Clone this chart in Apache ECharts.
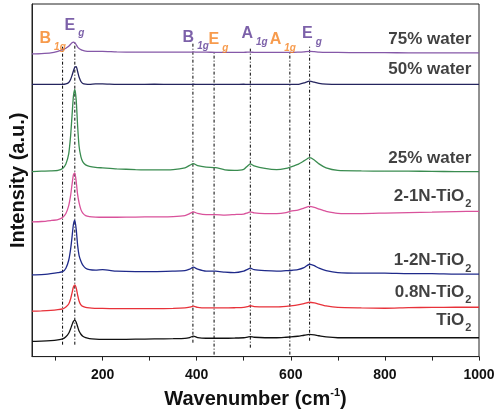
<!DOCTYPE html>
<html><head><meta charset="utf-8">
<script src="https://cdn.jsdelivr.net/npm/echarts@6/dist/echarts.min.js"></script>
<style>html,body{margin:0;padding:0;background:#fff}#c{width:500px;height:414px}</style>
</head><body><div id="c"></div>
<script>
// Raman shift (cm-1)
const wavenumber = [50,70,90,105,115,122,128,132,135,138,141,144,147,150,154,158,164,172,185,200,230,270,310,350,375,385,393,402,420,440,460,480,500,508,514,522,545,570,590,600,615,628,640,650,660,675,700,750,800,850,900,950,1000];
// Intensities (a.u., offset stacked)
const tio2 = [15.3,15.5,16,16.8,17.8,20,23.5,28,32,35.5,36.7,34.5,30,25.7,22.5,20.5,19,18,17.5,17.3,17.3,17.5,17.8,18,18.3,19.2,20.6,19.2,18.5,18.5,18.5,18.7,19,19.6,20.2,19.5,19,19,19.5,19.8,20.5,21.5,22.3,21.8,21,19.8,19,19,19,19,19,19,19];
const n08 = [45.7,46,46.5,47.2,48,50,53,58,64,70,72.3,69,62,56,52,50.5,49.5,49,48.5,48.5,48.3,48.3,48.3,48.5,49,49.8,50.8,49.6,49,49,49,49.2,49.5,50.3,51.2,50.4,50,50,50.5,51,52,53.3,54.7,54,52.8,51,49.5,49,48.7,49.3,49.5,49.7,49.7];
const n12 = [82.3,82.5,83.5,84.5,85.5,89,97,108,120,133,137.5,128,112,102,96,92,89,87.5,87,87.5,86,85.5,85.5,86,86.5,88,90,88,86,86,85,84.5,86,87.8,89,87.5,86.5,86,86.5,86.7,87.5,89.5,93,91.5,89,86.5,84.5,84,84,83.5,83.5,83,83];
const n21 = [135.7,136,137,138,140,144,152,162,173,183,185,176,163,155,148,144.5,142,141,140.5,140.3,140.3,140.5,140.7,141,142,144,145.7,144.2,143,143,142.5,143,143.5,144.8,145.7,144.6,144,144,145,146.5,147.5,149.5,151.3,150.2,148.5,146.3,144.3,144,144.5,145,145.5,146,146.3];
const w25 = [186.3,186.7,187,187.5,189.5,194,204,222,242,262,269,258,232,212,201,196,193,191.5,190.5,190,189,188.3,188,188.3,190,192.5,194.3,192.3,190.8,190.3,188,187.5,188.5,192,194,192,189.5,188.3,189.5,191,193.5,197,200.3,198,194,190,187.5,187,186.7,186.7,186.5,186.3,186.3];
const w50 = [274,274,274,274,274,274.5,276,279,283,287.5,291.5,292,287,281.5,277,275,274.3,274,274.5,274.5,274,274,274.2,274,274,274,274.2,274,274,274,274,274,274.2,274,274,274,274,274,274,274,274,275.5,277.3,276.3,275,274.3,274,274,274,274,274,274,274];
const w75 = [304.7,305,305.7,307.3,309,310.5,312.5,314.5,316,316.7,316,314,311.5,310.3,309,308.2,307.5,307.3,307.3,307.3,306.7,306.5,306.5,306.5,306.5,306.5,306.7,306.5,306.5,306.3,306.3,306.3,306.3,306.5,306.5,306.3,306.3,306.3,306.3,306.3,306.5,306.8,307.3,307,306.6,306.3,306.2,306,306,305.8,305.8,305.7,305.7];

const seriesNames = ['TiO2','0.8N-TiO2','1-2N-TiO2','2-1N-TiO2','25% water','50% water','75% water'];
const seriesLabels = ['TiO{s|2}','0.8N-TiO{s|2}','1-2N-TiO{s|2}','2-1N-TiO{s|2}','25% water','50% water','75% water'];
const seriesLabelX = [985,985,985,985,985,985,985];
const seriesLabelY = [36.5,64.8,96.5,161.5,199.2,289,319];
const seriesColors = ['#111111','#e8323a','#1f2a8a','#d9529b','#3a8c50','#24245e','#8558a8'];

// Raman mode reference lines
const modeX = [115,141,392,437,514,598,640];
const modeTop = [312,316,316,306,311,307,312];
const modeBottom = [12,12,14,2,9,2,16];

// Mode labels
const modeLabelText = ['B{s|1g}','E{s|g}','B{s|1g}','E{s|g}','A{s|1g}','A{s|1g}','E{s|g}'];
const modeLabelX = [65,118,369,424,494,554,623];
const modeLabelY = [320,333.5,321,319,325,319,325];
const modeLabelGroup = ['o','p','p','o','p','o','p'];

const xLabelValues = [200,400,600,800,1000];
const xTickValues = [100,200,300,400,500,600,700,800,900,1000];

const allY = [tio2,n08,n12,n21,w25,w50,w75];
const FONT = 'Liberation Sans, Arial, sans-serif';

const series = [];
allY.forEach((ys, i) => {
  series.push({
    name: seriesNames[i], type: 'line', showSymbol: false, symbol: 'none', smooth: 0.2,
    data: wavenumber.map((x, j) => [x, ys[j]]),
    lineStyle: { color: seriesColors[i], width: 1.3 }, z: 3
  });
});
modeX.forEach((x, i) => {
  series.push({
    type: 'line', symbol: 'none', data: [[x, modeBottom[i]], [x, modeTop[i]]],
    lineStyle: { color: '#000', width: 1, type: [3, 2, 1, 2] }, z: 2
  });
});
series.push({
  type: 'scatter', symbolSize: 1, itemStyle: { color: 'rgba(0,0,0,0)' },
  data: seriesLabels.map((t, i) => ({ value: [seriesLabelX[i], seriesLabelY[i]], name: t })),
  label: {
    show: true, position: 'left', distance: 0, color: '#111',
    fontFamily: FONT, fontWeight: 'bold', fontSize: 17, lineHeight: 18,
    formatter: p => p.name,
    rich: { s: { fontFamily: FONT, fontWeight: 'bold', fontSize: 11, lineHeight: 18, padding: [16, 0, 0, 1], color: '#111' } }
  }, z: 5
});
['o', 'p'].forEach(g => {
  const col = g === 'o' ? '#f58220' : '#5b3a93';
  series.push({
    type: 'scatter', symbolSize: 1, itemStyle: { color: 'rgba(0,0,0,0)' },
    data: modeLabelText.map((t, i) => modeLabelGroup[i] === g ? { value: [modeLabelX[i], modeLabelY[i]], name: t } : null).filter(Boolean),
    label: {
      show: true, position: 'right', distance: 0, color: col,
      fontFamily: FONT, fontWeight: 'bold', fontSize: 16, lineHeight: 18,
      formatter: p => p.name,
      rich: { s: { fontFamily: FONT, fontWeight: 'bold', fontStyle: 'italic', fontSize: 10, lineHeight: 18, padding: [16, 0, 0, 3], color: col } }
    }, z: 5
  });
});

const chart = echarts.init(document.getElementById('c'));
chart.setOption({
  animation: false,
  backgroundColor: '#fff',
  grid: { left: 30, right: 21, top: 4, bottom: 55, show: true, borderColor: '#222', borderWidth: 1 },
  xAxis: {
    type: 'value', min: 50, max: 1000,
    name: 'Wavenumber (cm{sup|-1})', nameLocation: 'middle', nameGap: 29,
    nameTextStyle: { fontFamily: FONT, fontWeight: 'bold', fontSize: 20, color: '#111',
      rich: { sup: { fontFamily: FONT, fontWeight: 'bold', fontSize: 11, padding: [0, 0, 12, 0], color: '#111' } } },
    axisLine: { show: true, lineStyle: { color: '#222', width: 1 } },
    axisTick: { show: true, length: 4, customValues: xTickValues, lineStyle: { color: '#222' } },
    axisLabel: { show: true, customValues: xLabelValues, margin: 12, fontFamily: FONT, fontWeight: 'bold', fontSize: 14, color: '#111', formatter: v => String(v) },
    splitLine: { show: false }
  },
  yAxis: {
    type: 'value', min: 0, max: 355,
    name: 'Intensity (a.u.)', nameLocation: 'middle', nameGap: 4,
    nameTextStyle: { fontFamily: FONT, fontWeight: 'bold', fontSize: 20, color: '#111' },
    axisLine: { show: true, lineStyle: { color: '#222', width: 1 } },
    axisTick: { show: false }, axisLabel: { show: false }, splitLine: { show: false }
  },
  series
});
</script></body></html>
